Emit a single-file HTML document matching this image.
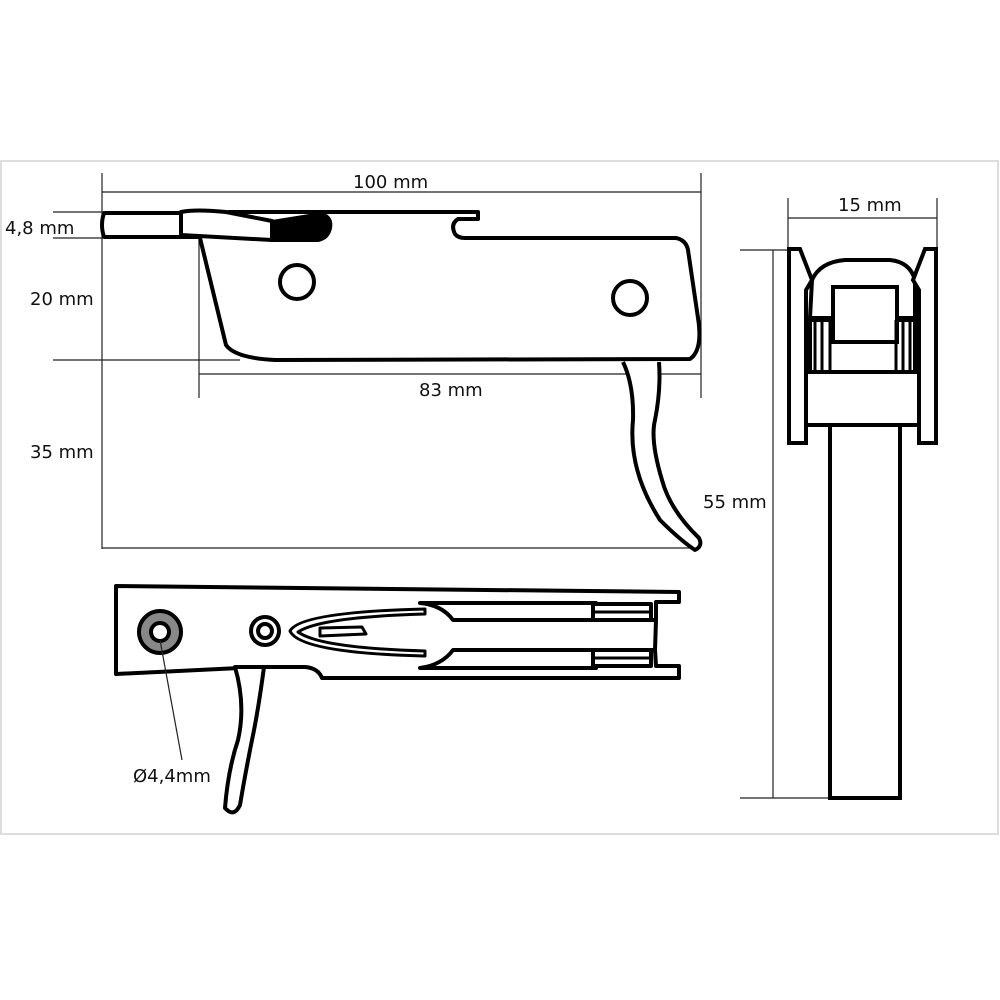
<!DOCTYPE html>
<html><head><meta charset="utf-8"><style>
html,body{margin:0;padding:0;background:#fff}
svg{display:block}
text{font-family:"DejaVu Sans","Liberation Sans",sans-serif;font-size:18px;fill:#111}
</style></head><body>
<svg width="1000" height="1000" viewBox="0 0 1000 1000" xmlns="http://www.w3.org/2000/svg">
<rect x="1" y="161" width="997" height="673" fill="none" stroke="#ddd" stroke-width="2"/>
<!-- dimension lines top view -->
<g stroke="#222" stroke-width="1.2" fill="none">
<line x1="102" y1="173" x2="102" y2="549"/>
<line x1="102" y1="192" x2="701" y2="192"/>
<line x1="701" y1="173" x2="701" y2="398"/>
<line x1="53" y1="212" x2="102" y2="212"/>
<line x1="53" y1="238" x2="102" y2="238"/>
<line x1="53" y1="360" x2="240" y2="360"/>
<line x1="199" y1="240" x2="199" y2="398"/>
<line x1="199" y1="374" x2="701" y2="374"/>
<line x1="102" y1="548" x2="695" y2="548"/>
</g>
<text x="353" y="188">100 mm</text>
<text x="5" y="234">4,8 mm</text>
<text x="30" y="305">20 mm</text>
<text x="419" y="396">83 mm</text>
<text x="30" y="458">35 mm</text>
<!-- top view body -->
<g stroke="#000" stroke-width="4" fill="#fff" stroke-linejoin="round">
<path d="M104,213 L200,213 L200,237 L104,237 Q100,225 104,213 Z"/>
<path d="M228,212 L478,212 L478,219 L458,219 Q450,224 455,234 Q458,238 465,238 L676,238 Q686,240 688,250 L698,318 Q703,350 690,359 L275,360 Q235,358 226,345 L200,238"/>
<path d="M181,212 Q195,209 226,212 L272,221 L272,240 L181,235 Z"/>
<path d="M272,222 L322,214 Q332,218 330,228 Q328,238 318,240 L272,240 Z" fill="#000"/>
<circle cx="297" cy="282" r="17"/>
<circle cx="630" cy="298" r="17"/>
<path d="M623,362 Q634,385 633,420 Q628,470 660,520 Q680,540 695,550 Q703,546 699,538 Q670,510 662,480 Q650,440 655,420 Q661,390 659,362"/>
</g>
<!-- side view -->
<text x="133" y="782">Ø4,4mm</text>
<g stroke="#000" stroke-width="4" fill="#fff" stroke-linejoin="round">
<path d="M116,586 L679,592 L679,602 L656,602 L656,620 L655,650 L656,666 L679,666 L679,678 L322,678 Q318,668 305,667 L260,667 L116,674 Z"/>
<path d="M420,603 L596,603 L596,620 L453,620 Q442,605 420,603 Z"/>
<path d="M420,668 L596,668 L596,650 L453,650 Q442,665 420,668 Z"/>
<line x1="453" y1="620" x2="656" y2="620"/>
<line x1="453" y1="650" x2="656" y2="650"/>
<rect x="593" y="604" width="58" height="16"/>
<rect x="593" y="650" width="58" height="16"/>
<line x1="593" y1="612" x2="651" y2="612" stroke-width="3"/>
<line x1="593" y1="658" x2="651" y2="658" stroke-width="3"/>
<path d="M425,612 Q320,612 295,630 Q320,650 425,656" stroke-width="3"/>
<path d="M287,632 Q290,618 300,612 M287,632 Q292,646 300,652" stroke-width="0"/>
<path d="M290,631 Q300,612 425,609 L425,614 Q320,617 298,632 Q320,648 425,651 L425,656 Q300,653 290,631 Z" stroke-width="3"/>
<path d="M320,628 L362,627 L366,634 L320,636 Z" stroke-width="3"/>
<circle cx="160" cy="632" r="21" fill="#888"/>
<circle cx="160" cy="632" r="9"/>
<circle cx="265" cy="631" r="14"/>
<circle cx="265" cy="631" r="7"/>
<path d="M235,667 L264,667 Q258,712 252,740 Q245,775 240,805 Q234,818 225,808 Q228,770 238,740 Q246,705 235,667 Z"/>
</g>
<line x1="160" y1="640" x2="182" y2="760" stroke="#222" stroke-width="1.2"/>
<!-- end view -->
<g stroke="#222" stroke-width="1.2" fill="none">
<line x1="788" y1="198" x2="788" y2="248"/>
<line x1="937" y1="198" x2="937" y2="248"/>
<line x1="788" y1="218" x2="937" y2="218"/>
<line x1="740" y1="250" x2="800" y2="250"/>
<line x1="740" y1="798" x2="830" y2="798"/>
<line x1="773" y1="250" x2="773" y2="798"/>
</g>
<text x="838" y="211">15 mm</text>
<text x="703" y="508">55 mm</text>
<g stroke="#000" stroke-width="4" fill="#fff" stroke-linejoin="miter">
<rect x="830" y="425" width="70" height="373"/>
<rect x="806" y="372" width="113" height="53"/>
<path d="M810,318 L812,280 Q820,262 845,260 L890,260 Q910,262 915,280 L915,318 Z"/>
<rect x="810" y="320" width="105" height="52"/>
<rect x="833" y="287" width="64" height="55"/>
<line x1="815" y1="320" x2="815" y2="372" stroke-width="3"/>
<line x1="822" y1="320" x2="822" y2="372" stroke-width="3"/>
<line x1="830" y1="320" x2="830" y2="372" stroke-width="3"/>
<line x1="896" y1="320" x2="896" y2="372" stroke-width="3"/>
<line x1="903" y1="320" x2="903" y2="372" stroke-width="3"/>
<line x1="910" y1="320" x2="910" y2="372" stroke-width="3"/>
<path d="M789,249 L800,249 L812,280 L806,290 L806,443 L789,443 Z"/>
<path d="M936,249 L925,249 L913,280 L919,290 L919,443 L936,443 Z"/>
</g>
</svg>
</body></html>
